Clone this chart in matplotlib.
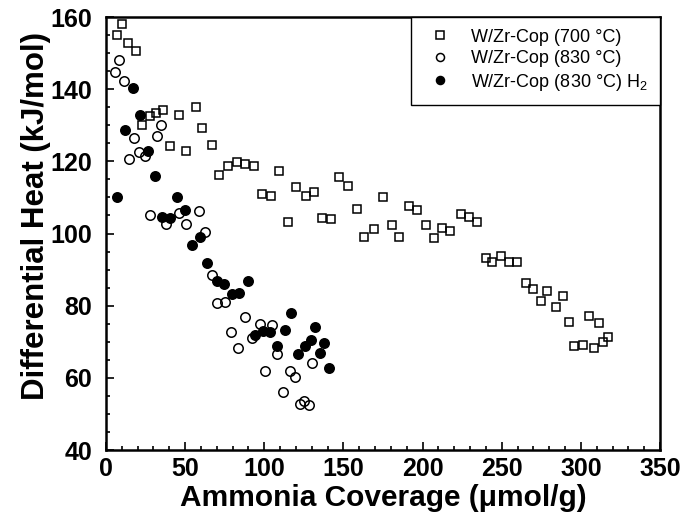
import matplotlib
matplotlib.use("Agg")
import matplotlib.pyplot as plt
from matplotlib.ticker import MultipleLocator

plt.rcParams['font.family'] = ['Liberation Sans', 'DejaVu Sans']
plt.rcParams['mathtext.fontset'] = 'custom'
plt.rcParams['mathtext.rm'] = 'Liberation Sans'
plt.rcParams['mathtext.it'] = 'Liberation Sans:italic'
plt.rcParams['mathtext.bf'] = 'Liberation Sans:bold'

# W/Zr-Cop (700 °C)
x700 = [6.8, 10.0, 14.0, 19.0, 22.6, 27.6, 31.5, 36.3, 40.3, 46.2, 50.8, 57.0, 60.8, 66.9,
        71.1, 77.0, 82.7, 88.0, 93.2, 98.7, 104.2, 109.3, 114.8, 120.3, 126.4, 131.2, 136.5,
        142.4, 147.5, 152.9, 158.7, 163.3, 169.2, 175.1, 180.4, 185.4, 191.3, 196.6, 202.3,
        207.0, 212.4, 217.5, 224.0, 229.3, 234.6, 239.9, 244.1, 249.4, 254.6, 259.9, 265.2,
        270.0, 274.7, 278.9, 284.2, 288.8, 292.2, 295.8, 301.1, 304.9, 308.0, 311.2, 313.7, 316.9]
y700 = [155.0, 158.0, 152.8, 150.6, 130.0, 132.6, 133.3, 134.2, 124.2, 132.9, 123.0, 135.0, 129.2, 124.6,
        116.2, 118.7, 119.9, 119.3, 118.7, 111.0, 110.5, 117.4, 103.1, 113.0, 110.5, 111.4, 104.4,
        104.0, 115.6, 113.2, 106.8, 99.0, 101.2, 110.2, 102.4, 99.0, 107.7, 106.5, 102.4,
        98.7, 101.6, 100.8, 105.4, 104.5, 103.3, 93.2, 92.0, 93.9, 92.0, 92.0, 86.2,
        84.7, 81.4, 84.2, 79.6, 82.7, 75.4, 68.9, 69.1, 77.2, 68.2, 75.2, 69.9, 71.4]

# W/Zr-Cop (830 °C)
x830 = [5.7, 8.5, 11.5, 14.7, 17.8, 20.6, 24.4, 32.1, 34.8, 27.8, 38.0, 46.2, 50.6, 58.9, 62.7,
        66.9, 70.0, 75.3, 78.9, 83.7, 88.0, 92.2, 97.0, 100.2, 104.9, 108.0, 111.8, 116.0,
        119.2, 122.8, 125.3, 128.0, 130.2]
y830 = [144.7, 148.2, 142.3, 120.6, 126.6, 122.6, 121.6, 127.0, 130.0, 105.2, 102.7, 105.6, 102.7, 106.3, 100.5,
        88.5, 80.7, 81.0, 72.8, 68.2, 76.8, 71.0, 75.0, 62.0, 74.7, 66.6, 56.2, 62.0,
        60.1, 52.8, 53.7, 52.5, 64.1]

# W/Zr-Cop (830 °C) H2
x830h = [7.2, 17.3, 12.0, 21.5, 26.5, 31.0, 35.2, 40.5, 44.7, 50.0, 54.2, 59.5, 63.9, 70.0, 74.7,
         79.3, 84.3, 89.7, 94.3, 99.2, 103.4, 108.0, 113.3, 117.1, 121.1, 126.0, 129.5, 131.8,
         135.0, 137.5, 140.7]
y830h = [110.0, 140.2, 128.8, 132.9, 122.9, 116.0, 104.7, 104.4, 110.0, 106.5, 96.7, 99.1, 91.8, 86.9, 86.0,
         83.2, 83.5, 86.8, 71.9, 73.0, 72.8, 68.7, 73.3, 77.9, 66.6, 68.7, 70.5, 74.0,
         67.0, 69.6, 62.7]

labels = ['W/Zr-Cop (700 °C)', 'W/Zr-Cop (830 °C)', r'W/Zr-Cop (830 °C) H$_\mathregular{2}$']

fig = plt.figure(figsize=(6.86, 5.16), dpi=100)
ax = fig.add_axes([0.1545, 0.1279, 0.8076, 0.8391])

ax.plot(x700, y700, ls='none', marker='s', ms=6.2, mfc='none', mec='black', mew=1.1, label=labels[0])
ax.plot(x830, y830, ls='none', marker='o', ms=6.8, mfc='none', mec='black', mew=1.1, label=labels[1])
ax.plot(x830h, y830h, ls='none', marker='o', ms=6.8, mfc='black', mec='black', mew=1.1, label=labels[2])

ax.set_xlim(0, 350)
ax.set_ylim(40, 160)
ax.xaxis.set_major_locator(MultipleLocator(50))
ax.xaxis.set_minor_locator(MultipleLocator(10))
ax.yaxis.set_major_locator(MultipleLocator(20))
ax.yaxis.set_minor_locator(MultipleLocator(5))

for s in ax.spines.values():
    s.set_linewidth(1.8)

ax.tick_params(which='both', direction='in', top=False, right=False, width=1.2)
ax.tick_params(which='major', length=6)
ax.tick_params(which='minor', length=3)
ax.tick_params(axis='x', pad=5)
ax.tick_params(axis='y', pad=10)
for lab in ax.get_xticklabels() + ax.get_yticklabels():
    lab.set_fontsize(18)
    lab.set_fontweight('bold')

ax.set_xlabel('Ammonia Coverage (μmol/g)', fontsize=21.5, fontweight='bold', labelpad=2)
ax.set_ylabel('Differential Heat (kJ/mol)', fontsize=22.5, fontweight='bold')
ax.yaxis.set_label_coords(-0.1, 0.54)

leg = ax.legend(loc='upper right', bbox_to_anchor=(1.0, 1.0), borderaxespad=0.0,
                fancybox=False, edgecolor='black', framealpha=1, fontsize=13,
                handletextpad=0.8, borderpad=0.65, labelspacing=0.25, markerscale=0.85,
                handlelength=1.9)
leg.get_frame().set_linewidth(1.0)

fig.savefig('out.png', dpi=100)
